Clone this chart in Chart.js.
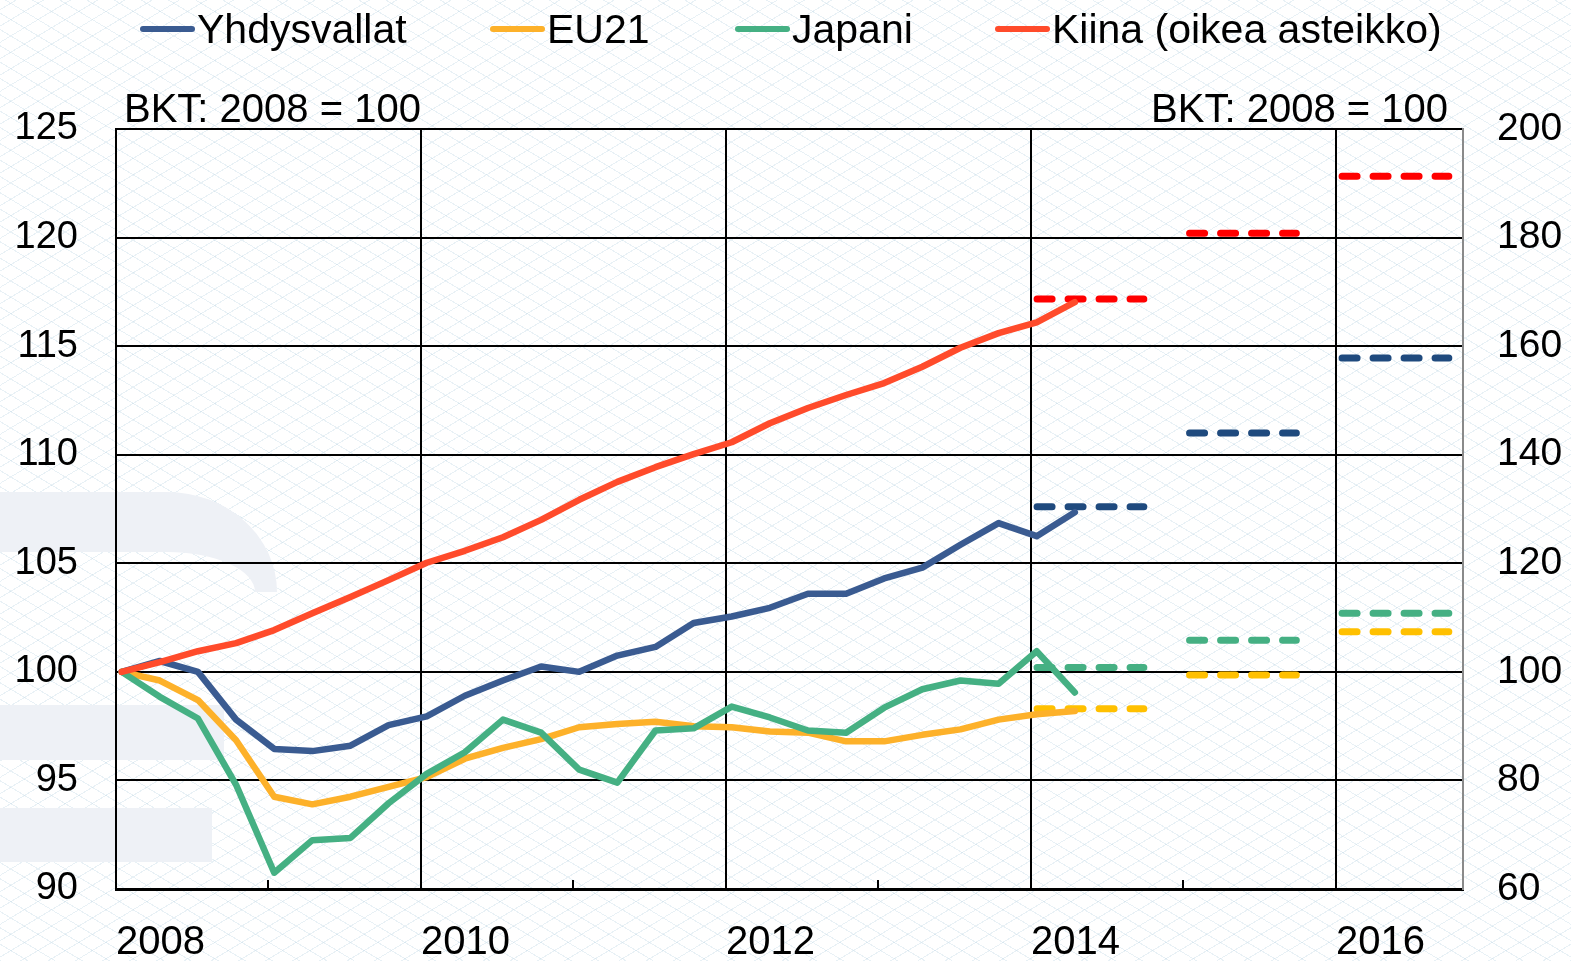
<!DOCTYPE html>
<html>
<head>
<meta charset="utf-8">
<script src="https://cdn.jsdelivr.net/npm/chart.js@4.4.1/dist/chart.umd.min.js"></script>
<style>
  html, body { margin: 0; padding: 0; background: #fff; }
  #wrap { position: relative; width: 1571px; height: 961px; overflow: hidden; background: #fff; font-family: 'Liberation Sans', Arial, sans-serif; color: #000; }
  .bg { position: absolute; inset: 0;
    background-image:
      repeating-linear-gradient(31deg, rgba(175, 205, 222, .28) 0 1px, transparent 1px 14px),
      repeating-linear-gradient(-31deg, rgba(175, 205, 222, .28) 0 1px, transparent 1px 14px); }
  .mark { position: absolute; background: #eef1f6; }
  .arc { position: absolute; left: -40px; top: 492px; width: 317px; height: 100px; box-sizing: border-box;
    border-top: 60px solid #eef1f6; border-right: 22px solid #eef1f6; border-top-right-radius: 110px 100px; }
  canvas { position: absolute; left: 0; top: 0; }
  .leg { position: absolute; top: 9px; height: 40px; line-height: 40px; font-size: 41px; display: flex; align-items: center; white-space: nowrap; }
  .leg i { display: inline-block; width: 55px; height: 6px; border-radius: 3px; margin-right: 2px; }
  .unit { position: absolute; top: 88px; height: 40px; line-height: 40px; font-size: 40px; white-space: nowrap; }
</style>
</head>
<body>
<div id="wrap">
  <div class="bg"></div>
  <div class="arc"></div>
  <div class="mark" style="left:0;top:705px;width:224px;height:55px"></div>
  <div class="mark" style="left:0;top:808px;width:212px;height:54px"></div>
  <canvas id="chart" width="1571" height="961"></canvas>
  <div class="leg" style="left:140px"><i style="background:#3a5b91"></i>Yhdysvallat</div>
  <div class="leg" style="left:490px"><i style="background:#fdb12a"></i>EU21</div>
  <div class="leg" style="left:735px"><i style="background:#45b083"></i>Japani</div>
  <div class="leg" style="left:995px"><i style="background:#ff4b2b"></i>Kiina (oikea asteikko)</div>
  <div class="unit" style="left:124px">BKT: 2008 = 100</div>
  <div class="unit" style="right:123px">BKT: 2008 = 100</div>
</div>
<script>
// quarterly GDP, 2008 = 100
const quarters = ['2008Q1', '2008Q2', '2008Q3', '2008Q4', '2009Q1', '2009Q2', '2009Q3', '2009Q4',
  '2010Q1', '2010Q2', '2010Q3', '2010Q4', '2011Q1', '2011Q2', '2011Q3', '2011Q4',
  '2012Q1', '2012Q2', '2012Q3', '2012Q4', '2013Q1', '2013Q2', '2013Q3', '2013Q4',
  '2014Q1', '2014Q2'];
const usa = [100, 100.5, 100.0, 97.8, 96.45, 96.35, 96.6, 97.55, 97.95, 98.9, 99.6, 100.25, 100.0,
  100.75, 101.15, 102.25, 102.55, 102.95, 103.6, 103.6, 104.3, 104.8, 105.85, 106.85, 106.25, 107.35];
const eu21 = [100, 99.6, 98.7, 96.85, 94.25, 93.9, 94.25, 94.7, 95.15, 96.0, 96.5, 96.9, 97.45,
  97.6, 97.7, 97.5, 97.45, 97.25, 97.2, 96.8, 96.8, 97.1, 97.35, 97.8, 98.05, 98.2];
const japan = [100, 98.85, 97.85, 94.8, 90.75, 92.25, 92.35, 93.95, 95.3, 96.3, 97.8, 97.2, 95.5,
  94.9, 97.3, 97.4, 98.4, 97.9, 97.3, 97.2, 98.35, 99.2, 99.6, 99.45, 100.95, 99.05];
const china = [100, 101.8, 103.8, 105.3, 107.7, 110.8, 113.8, 116.9, 120.1, 122.3, 124.8, 128.0, 131.7,
  135.0, 137.7, 140.1, 142.3, 145.8, 148.6, 151.0, 153.2, 156.2, 159.7, 162.4, 164.4, 168.1];

// annual forecasts
const forecastYears = [2014, 2015, 2016];
const usaForecast = [107.6, 111.0, 114.45];
const eu21Forecast = [98.3, 99.85, 101.85];
const japanForecast = [100.2, 101.45, 102.7];
const chinaForecast = [168.7, 180.8, 191.3];

const leftTicks = [90, 125, 5];
const rightTicks = [60, 200, 20];
const yearLabels = [2008, 2010, 2012, 2014, 2016];
const minorYears = [2009, 2011, 2013, 2015];

// quarter observations sit in the middle of the quarter's first month
const qx = q => Number(q.slice(0, 4)) + (Number(q.slice(5)) - 1) / 4 + 0.0375;
const series = vals => vals.map((v, i) => ({ x: qx(quarters[i]), y: v }));
const forecast = vals => forecastYears.flatMap((yr, i) => [
  { x: yr + 0.04, y: vals[i] }, { x: yr + 0.74, y: vals[i] }, { x: yr + 0.9, y: null }
]);

const solid = (data, color, axis, order) => ({
  data, borderColor: color, backgroundColor: color, yAxisID: axis, order,
  borderWidth: 6.5, pointRadius: 0, tension: 0, borderJoinStyle: 'round', borderCapStyle: 'round'
});
const dashed = (data, color, axis, order) => ({
  ...solid(data, color, axis, order), borderWidth: 7, borderDash: [15, 16], spanGaps: false
});

const minorTicks = {
  id: 'minorTicks',
  afterDraw(chart) {
    const { ctx, chartArea } = chart;
    const x = chart.scales.x;
    ctx.save();
    ctx.strokeStyle = '#000';
    ctx.lineWidth = 2;
    minorYears.forEach(yr => {
      const px = Math.round(x.getPixelForValue(yr));
      ctx.beginPath();
      ctx.moveTo(px, chartArea.bottom);
      ctx.lineTo(px, chartArea.bottom - 9);
      ctx.stroke();
    });
    ctx.restore();
  }
};

new Chart(document.getElementById('chart'), {
  type: 'line',
  data: {
    datasets: [
      dashed(forecast(usaForecast), '#1f4a7e', 'y', 8),
      dashed(forecast(eu21Forecast), '#ffc000', 'y', 7),
      dashed(forecast(japanForecast), '#45b083', 'y', 6),
      dashed(forecast(chinaForecast), '#ff0000', 'y1', 5),
      solid(series(usa), '#3a5b91', 'y', 4),
      solid(series(eu21), '#fdb12a', 'y', 3),
      solid(series(japan), '#45b083', 'y', 2),
      solid(series(china), '#ff4b2b', 'y1', 1)
    ]
  },
  options: {
    responsive: false,
    devicePixelRatio: 1,
    animation: false,
    layout: { padding: { top: 129, left: 0, right: 0, bottom: 0 } },
    plugins: { legend: { display: false }, tooltip: { enabled: false } },
    scales: {
      x: {
        type: 'linear', min: 2008, max: 2016.833,
        afterFit: s => { s.height = 72; },
        ticks: {
          stepSize: 1, includeBounds: false, autoSkip: false, maxRotation: 0, align: 'start',
          padding: 30, color: '#000', font: { family: 'Liberation Sans', size: 40 },
          callback: v => yearLabels.includes(v) ? String(v) : ''
        },
        grid: { color: c => yearLabels.includes(c.tick && c.tick.value) ? '#000' : 'rgba(0,0,0,0)', lineWidth: 2, drawTicks: false },
        border: { color: '#000', width: 3 }
      },
      y: {
        position: 'left', min: leftTicks[0], max: leftTicks[1],
        afterFit: s => { s.width = 116; },
        ticks: { stepSize: leftTicks[2], padding: 38, color: '#000', font: { family: 'Liberation Sans', size: 38 } },
        grid: { color: '#000', lineWidth: 2, drawTicks: false },
        border: { color: '#000', width: 2 }
      },
      y1: {
        position: 'right', min: rightTicks[0], max: rightTicks[1],
        afterFit: s => { s.width = 108; },
        ticks: { stepSize: rightTicks[2], padding: 34, color: '#000', font: { family: 'Liberation Sans', size: 39 } },
        grid: { drawOnChartArea: false, drawTicks: false },
        border: { color: '#8a8a8a', width: 2 }
      }
    }
  },
  plugins: [minorTicks]
});
</script>
</body>
</html>
